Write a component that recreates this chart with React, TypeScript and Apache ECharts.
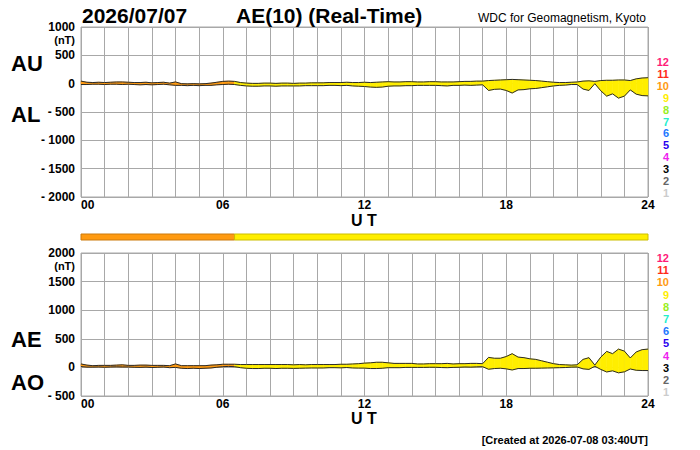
import React, { useEffect, useRef } from 'react';
import * as echarts from 'echarts';

// ---- data (UT hours, nT) ----
const HOURS = [
  0, 0.25, 0.5, 0.75, 1, 1.25, 1.5, 1.75, 2, 2.25, 2.5, 2.75, 3, 3.25, 3.5, 3.75,
  4, 4.25, 4.5, 4.75, 5, 5.25, 5.5, 5.75, 6, 6.25, 6.5, 6.75, 7, 7.25, 7.5, 7.75,
  8, 8.25, 8.5, 8.75, 9, 9.25, 9.5, 9.75, 10, 10.25, 10.5, 10.75, 11, 11.25, 11.5, 11.75,
  12, 12.25, 12.5, 12.75, 13, 13.25, 13.5, 13.75, 14, 14.25, 14.5, 14.75, 15, 15.25, 15.5, 15.75,
  16, 16.25, 16.5, 16.75, 17, 17.25, 17.5, 17.75, 18, 18.25, 18.5, 18.75, 19, 19.25, 19.5, 19.75,
  20, 20.25, 20.5, 20.75, 21, 21.25, 21.5, 21.75, 22, 22.25, 22.5, 22.75, 23, 23.25, 23.5, 23.75, 24,
];
const AU = [
  45, 25, 20, 25, 20, 25, 30, 30, 25, 20, 20, 25, 15, 20, 25, 10,
  30, 0, -5, 0, -5, 0, 10, 25, 40, 45, 40, 20, 10, 5, 5, 10,
  10, 5, 10, 10, 5, 10, 10, 15, 15, 15, 20, 20, 20, 25, 20, 20,
  25, 20, 25, 30, 35, 30, 30, 35, 35, 30, 30, 35, 35, 30, 30, 30,
  35, 40, 40, 45, 45, 55, 60, 65, 70, 75, 70, 65, 60, 55, 45, 35,
  25, 20, 20, 25, 30, 45, 50, 40, 55, 60, 60, 65, 65, 55, 85, 100, 105,
];
const AL = [
  -15, -15, -10, -10, -15, -10, -10, -15, -10, -15, -20, -15, -20, -15, -10, -20,
  -30, -30, -35, -30, -35, -30, -30, -20, -15, -10, -15, -30, -40, -45, -45, -40,
  -40, -45, -40, -40, -40, -40, -35, -35, -35, -35, -30, -30, -35, -30, -40, -45,
  -50, -60, -65, -60, -45, -40, -40, -35, -35, -30, -30, -30, -30, -35, -40, -30,
  -30, -25, -30, -25, -20, -120, -100, -95, -120, -165, -110, -105, -90, -85, -70, -55,
  -40, -30, -25, -15, -15, -95, -120, 0, -125, -220, -180, -255, -220, -110, -185, -210, -215,
];
// station-count segments (number of contributing stations)
const SEG_START = [0, 6.5];
const SEG_END = [6.5, 24];
const SEG_STATIONS = [10, 9];
// colour key
const LEGEND_COUNTS = [12, 11, 10, 9, 8, 7, 6, 5, 4, 3, 2, 1];
const LEGEND_COLORS = [
  '#ff1a78', '#ff2a1a', '#ff9a10', '#ffee00', '#99ee22', '#22eecc',
  '#2277ff', '#2a00ee', '#ee22ee', '#000000', '#666666', '#cccccc',
];
const X_LABEL_STEP = 6;

const FONT = '"Liberation Sans", Arial, Helvetica, sans-serif';

function stationColor(n: number): string {
  const i = LEGEND_COUNTS.indexOf(n);
  return i >= 0 ? LEGEND_COLORS[i] : '#ffee00';
}
function stationsAt(t: number): number {
  for (let i = 0; i < SEG_START.length; i++) {
    if (t >= SEG_START[i] && t < SEG_END[i]) return SEG_STATIONS[i];
  }
  return SEG_STATIONS[SEG_STATIONS.length - 1];
}
function darken(hex: string, f: number): string {
  const h = hex.replace('#', '');
  const r = Math.round(parseInt(h.slice(0, 2), 16) * f);
  const g = Math.round(parseInt(h.slice(2, 4), 16) * f);
  const b = Math.round(parseInt(h.slice(4, 6), 16) * f);
  return `rgb(${r},${g},${b})`;
}

const AE = AU.map((u, i) => u - AL[i]);
const AO = AU.map((u, i) => (u + AL[i]) / 2);

function bandData(upper: number[], lower: number[]) {
  const out: number[][] = [];
  for (let i = 0; i < HOURS.length - 1; i++) {
    out.push([HOURS[i], HOURS[i + 1], upper[i], upper[i + 1], lower[i], lower[i + 1], stationsAt(HOURS[i])]);
  }
  return out;
}

function bandRender(params: any, api: any) {
  const t0 = api.value(0), t1 = api.value(1);
  const u0 = api.value(2), u1 = api.value(3);
  const l0 = api.value(4), l1 = api.value(5);
  const c = stationColor(api.value(6));
  const pts = [api.coord([t0, u0]), api.coord([t1, u1]), api.coord([t1, l1]), api.coord([t0, l0])];
  return {
    type: 'polygon',
    shape: { points: pts },
    style: { fill: c, stroke: c, lineWidth: 0.6 },
  };
}

function barRender(params: any, api: any) {
  const a = api.coord([api.value(0), 1]);
  const b = api.coord([api.value(1), 0]);
  const c = stationColor(api.value(2));
  return {
    type: 'rect',
    shape: { x: a[0], y: a[1], width: b[0] - a[0], height: b[1] - a[1] },
    style: { fill: c, stroke: darken(c, 0.8), lineWidth: 1 },
  };
}

const xLabel = (v: number) => (v % X_LABEL_STEP === 0 ? String(v).padStart(2, '0') : '');
const yLabel = (v: number) => (v < 0 ? '- ' + Math.abs(v) : String(v));

function text(t: string, x: number, y: number, size: number, opts: any = {}) {
  return {
    type: 'text',
    x, y,
    silent: true,
    style: {
      text: t,
      font: `${opts.weight || 'bold'} ${size}px ${FONT}`,
      fill: opts.color || '#000',
      align: opts.align || 'left',
      textAlign: opts.align || 'left',
      verticalAlign: 'middle',
      textVerticalAlign: 'middle',
      lineHeight: opts.lineHeight,
    },
  };
}

export default function App() {
  const ref = useRef<HTMLDivElement>(null);
  useEffect(() => {
    document.body.style.margin = '0';
    if (!ref.current) return;
    const chart = echarts.init(ref.current, undefined, { renderer: 'svg' });

    const gridLine = { show: true, lineStyle: { color: '#a8a8a8', width: 1 } };
    const xAxisCommon = {
      type: 'value', min: 0, max: 24, interval: 1,
      axisLine: { show: false }, axisTick: { show: false },
      splitLine: gridLine,
      axisLabel: {
        formatter: xLabel, fontFamily: FONT, fontWeight: 'bold', fontSize: 12, color: '#000', margin: 2,
        alignMinLabel: 'left',
      },
    };
    const yAxisCommon = {
      type: 'value', interval: 500,
      axisLine: { show: false }, axisTick: { show: false },
      splitLine: gridLine,
      axisLabel: {
        formatter: yLabel, fontFamily: FONT, fontWeight: 'bold', fontSize: 12, color: '#000', margin: 6,
      },
    };

    const legendTop = LEGEND_COUNTS.map((n, i) => text(String(n), 669, 62 + i * 11.9, 11, { align: 'right', color: LEGEND_COLORS[i], lineHeight: 11 }));
    const legendBot = LEGEND_COUNTS.map((n, i) => text(String(n), 669, 258 + i * 12.2, 11, { align: 'right', color: LEGEND_COLORS[i], lineHeight: 11 }));

    chart.setOption({
      animation: false,
      backgroundColor: '#fff',
      grid: [
        { left: 81, top: 27, width: 567, height: 170, show: true, borderColor: '#a8a8a8', borderWidth: 1, backgroundColor: 'transparent' },
        { left: 81, top: 234, width: 567, height: 6 },
        { left: 81, top: 253, width: 567, height: 143, show: true, borderColor: '#a8a8a8', borderWidth: 1, backgroundColor: 'transparent' },
      ],
      xAxis: [
        { ...xAxisCommon, gridIndex: 0 },
        { type: 'value', min: 0, max: 24, gridIndex: 1, show: false },
        { ...xAxisCommon, gridIndex: 2 },
      ],
      yAxis: [
        { ...yAxisCommon, gridIndex: 0, min: -2000, max: 1000 },
        { type: 'value', min: 0, max: 1, gridIndex: 1, show: false },
        { ...yAxisCommon, gridIndex: 2, min: -500, max: 2000 },
      ],
      series: [
        {
          type: 'custom', xAxisIndex: 0, yAxisIndex: 0, renderItem: bandRender,
          data: bandData(AU, AL), encode: { x: [0, 1], y: [2, 3, 4, 5] }, z: 2, silent: true,
        },
        {
          type: 'line', xAxisIndex: 0, yAxisIndex: 0, data: HOURS.map((h, i) => [h, AU[i]]),
          showSymbol: false, lineStyle: { color: '#2a2a2a', width: 1 }, z: 3, silent: true,
        },
        {
          type: 'line', xAxisIndex: 0, yAxisIndex: 0, data: HOURS.map((h, i) => [h, AL[i]]),
          showSymbol: false, lineStyle: { color: '#2a2a2a', width: 1 }, z: 3, silent: true,
        },
        {
          type: 'custom', xAxisIndex: 1, yAxisIndex: 1, renderItem: barRender,
          data: SEG_START.map((s, i) => [s, SEG_END[i], SEG_STATIONS[i]]), encode: { x: [0, 1] }, silent: true,
        },
        {
          type: 'custom', xAxisIndex: 2, yAxisIndex: 2, renderItem: bandRender,
          data: bandData(AE, AO), encode: { x: [0, 1], y: [2, 3, 4, 5] }, z: 2, silent: true,
        },
        {
          type: 'line', xAxisIndex: 2, yAxisIndex: 2, data: HOURS.map((h, i) => [h, AE[i]]),
          showSymbol: false, lineStyle: { color: '#2a2a2a', width: 1 }, z: 3, silent: true,
        },
        {
          type: 'line', xAxisIndex: 2, yAxisIndex: 2, data: HOURS.map((h, i) => [h, AO[i]]),
          showSymbol: false, lineStyle: { color: '#2a2a2a', width: 1 }, z: 3, silent: true,
        },
      ],
      graphic: [
        text('2026/07/07', 82, 15, 21),
        text('AE(10) (Real-Time)', 236, 15, 21),
        text('WDC for Geomagnetism, Kyoto', 646, 18, 12, { align: 'right', weight: 'normal' }),
        text('(nT)', 75, 40, 11, { align: 'right', lineHeight: 11 }),
        text('(nT)', 75, 266, 11, { align: 'right', lineHeight: 11 }),
        text('AU', 11, 63, 22),
        text('AL', 11, 114, 22),
        text('AE', 11, 339, 22),
        text('AO', 11, 382, 22),
        text('U T', 364, 220, 16, { align: 'center' }),
        text('U T', 364, 418, 16, { align: 'center' }),
        text('[Created at 2026-07-08 03:40UT]', 648, 440, 11, { align: 'right' }),
        ...legendTop,
        ...legendBot,
      ],
    });
    return () => chart.dispose();
  }, []);
  return <div ref={ref} style={{ width: 700, height: 450 }} />;
}
